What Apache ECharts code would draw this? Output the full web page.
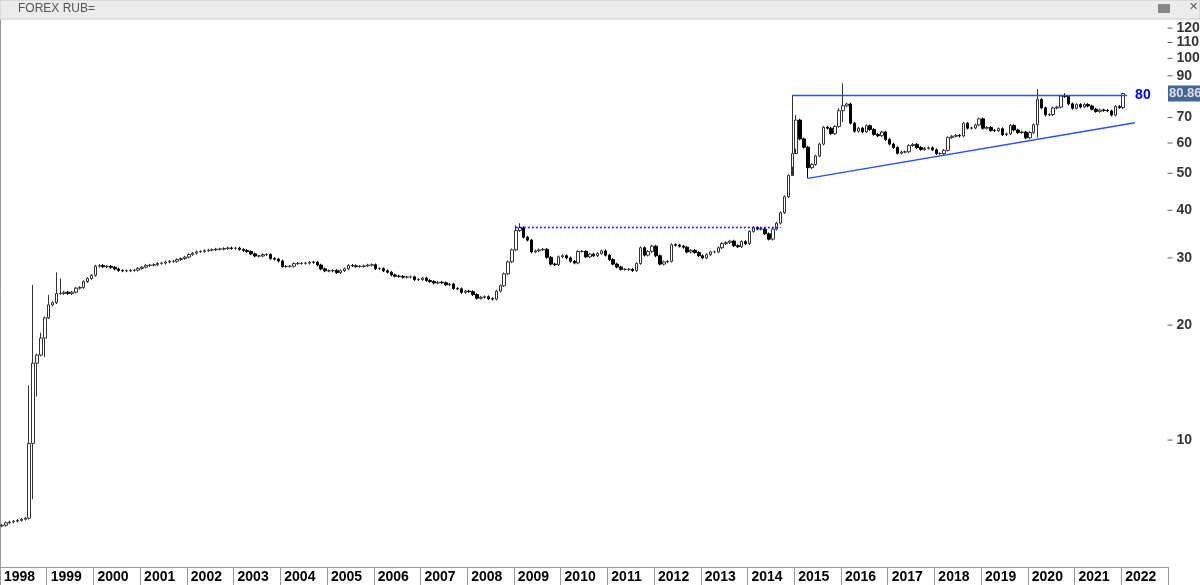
<!DOCTYPE html>
<html><head><meta charset="utf-8">
<script src="https://cdn.jsdelivr.net/npm/echarts@6/dist/echarts.min.js"></script>
<style>html,body{margin:0;padding:0;background:#fff}#c{width:1200px;height:585px}</style>
</head><body><div id="c"></div>
<script>
// Monthly closes, Jan 1998 .. Jan 2022
const closes = [
5.98,6.07,6.10,6.13,6.16,6.20,6.24,9.8,15.9,16.7,18.5,20.9,
22.6,22.9,24.2,24.2,24.4,24.2,24.4,25.0,25.1,26.0,26.5,27.0,
28.55,28.66,28.46,28.52,28.35,28.07,27.80,27.75,27.75,27.83,27.85,28.16,
28.37,28.68,28.72,28.79,29.02,29.07,29.27,29.39,29.39,29.70,29.88,30.14,
30.62,30.86,31.12,31.19,31.34,31.45,31.51,31.63,31.64,31.75,31.86,31.78,
31.82,31.57,31.38,31.17,30.74,30.35,30.35,30.60,30.61,29.90,29.77,29.45,
28.49,28.52,28.53,28.99,29.03,29.03,29.07,29.23,29.22,28.74,28.08,27.75,
27.75,27.81,27.46,27.77,28.09,28.67,28.61,28.50,28.50,28.59,28.73,28.78,
28.12,28.12,27.76,27.51,27.07,26.87,26.84,26.71,26.74,26.76,26.32,26.33,
26.58,26.18,26.01,25.79,25.90,25.82,25.51,25.63,24.95,24.90,24.37,24.55,
24.48,24.05,23.52,23.66,23.74,23.46,23.40,24.55,25.37,27.26,29.30,31.5,
35.4,36.0,34.0,33.4,31.1,31.3,31.5,31.6,30.1,28.9,28.8,30.2,
30.4,30.0,29.4,29.1,31.2,31.2,30.2,30.7,30.4,30.8,31.3,30.5,
29.7,28.9,28.4,28.0,28.0,28.0,27.8,29.0,31.9,30.5,31.2,32.2,
30.4,28.9,29.3,29.4,32.5,32.4,32.2,32.0,31.1,31.4,31.0,30.4,
30.0,30.6,31.1,31.1,31.9,32.7,32.9,33.2,32.3,32.1,33.1,32.7,
35.2,36.0,35.7,35.7,34.7,33.6,35.7,37.0,39.4,43.4,49.3,56.3,
68.9,61.5,58.5,51.7,52.7,55.5,59.6,66.0,65.6,63.5,66.3,72.9,
75.1,75.9,67.6,64.4,65.6,64.2,66.6,65.1,63.2,62.7,64.1,61.3,
59.6,58.4,56.4,56.8,56.9,59.1,59.5,58.4,57.7,58.1,58.3,57.6,
56.3,56.3,57.4,62.0,62.5,62.8,62.6,67.6,65.6,65.7,66.9,69.4,
65.6,65.9,64.7,64.6,65.4,63.1,63.4,66.7,64.9,63.9,64.1,61.9,
63.9,67.0,78.0,74.2,71.1,71.2,74.1,74.5,79.7,79.4,76.0,74.0,
75.7,74.6,75.7,75.0,73.6,72.6,73.2,73.0,72.8,71.0,74.8,74.3,
80.86];
const firstOpen = 5.96;
// notable wick extremes by month index
const wickHigh = {7:13.9,8:25.5,10:19.1,12:24,14:27.5,15:26.5,132:36.5,133:37,203:80,204:71,215:74,216:86,266:83,273:81,288:80.9};
const wickLow  = {8:7.0,9:13.0,11:16.5,203:52,204:58,207:48.5,216:68,266:62};
const yTicks = [10,20,30,40,50,60,70,90,100,110,120];
const lastLabel = 80.86;
const levelTop = 80, levelMid = 36.1;
const supportStart = ['2015-04', 48.5], supportEnd = ['2022-04', 67.8];

const cats = [];
for (let y = 1998; y <= 2022; y++) for (let m = 1; m <= 12; m++) cats.push(y + '-' + String(m).padStart(2,'0'));
const L = Math.log10;
const candles = closes.map((c, i) => {
  const o = i === 0 ? firstOpen : closes[i-1];
  const hi = wickHigh[i] !== undefined ? wickHigh[i] : Math.max(o,c)*1.008;
  const lo = wickLow[i] !== undefined ? wickLow[i] : Math.min(o,c)*0.992;
  return [L(o), L(c), L(lo), L(hi)];
});
const blueSolid = {color:'#2a4cff', width:1.3, type:'solid', opacity:1};
const blueDot = {color:'#1010ff', width:1.3, type:[2,2], opacity:1};

const chart = echarts.init(document.getElementById('c'));
chart.setOption({
  animation: false,
  graphic: [
    {type:'rect', shape:{x:0,y:0,width:1200,height:19}, style:{fill:'#ececec', stroke:'#c8c8c8'}},
    {type:'text', left:18, top:3, style:{text:'FOREX RUB=', fill:'#555', font:'12px "Liberation Sans", Arial'}},
    {type:'rect', shape:{x:1158,y:4,width:12,height:9}, style:{fill:'#888'}},
    {type:'text', left:1189, top:2, style:{text:'✕', fill:'#555', font:'11px DejaVu Sans'}}
  ],
  grid: {left:0, right:32, top:20, bottom:18},
  xAxis: [{
    type:'category', data:cats, boundaryGap:true,
    axisLine:{lineStyle:{color:'#999'}},
    axisTick:{show:true, length:18, lineStyle:{color:'#999'}, interval:(i,v)=>v.endsWith('-01')},
    axisLabel:{interval:(i,v)=>v.endsWith('-01'), formatter:v=>v.slice(0,4), align:'left', margin:3,
      color:'#000', fontWeight:'bold', fontSize:14, fontFamily:'"Liberation Sans", Arial', padding:[0,0,0,2]},
    splitLine:{show:false}
  },{type:'value', min:0, max:1, show:false}],
  yAxis: {type:'value', min:L(4.65), max:L(126), position:'right',
    axisLine:{show:true, lineStyle:{color:'#999'}}, axisTick:{show:false}, axisLabel:{show:false}, splitLine:{show:false}},
  series: [{
    type:'candlestick', data:candles, barWidth:3,
    itemStyle:{color:'#fff', color0:'#000', borderColor:'#333', borderColor0:'#000', borderWidth:1}
  },{
    type:'line', data:[], silent:true, color:'#2a4cff',
    markLine:{symbol:'none', silent:true, label:{show:false}, lineStyle:blueSolid, data:[
      [{coord:['2014-12', L(levelTop)]},
       {coord:['2022-02', L(levelTop)], label:{show:true, position:'end', formatter:'80', color:'#0000ff', fontWeight:'bold', fontSize:14, distance:8}}],
      [{coord:['2009-01', L(levelMid)], lineStyle:blueDot}, {coord:['2014-09', L(levelMid)], lineStyle:blueDot}],
      [{coord:[supportStart[0], L(supportStart[1])]}, {coord:[supportEnd[0], L(supportEnd[1])]}]
    ]}
  },{
    type:'scatter', xAxisIndex:1, symbol:'rect', symbolSize:[5,1], symbolOffset:[2,0],
    itemStyle:{color:'#333'}, silent:true,
    data: yTicks.map(v=>[1, L(v)]),
    label:{show:true, position:'right', distance:4, formatter:p=>String(yTicks[p.dataIndex]), color:'#000', fontWeight:'bold', fontSize:14, fontFamily:'"Liberation Sans", Arial'}
  },{
    type:'scatter', xAxisIndex:1, symbolSize:0, silent:true, data:[[1, L(lastLabel)]],
    label:{show:true, position:'right', distance:0, formatter:String(lastLabel), color:'#fff', backgroundColor:'#17407a', padding:[2,1,1,1], fontSize:13, fontWeight:'bold', fontFamily:'"Liberation Sans", Arial'}
  }]
});
</script></body></html>
